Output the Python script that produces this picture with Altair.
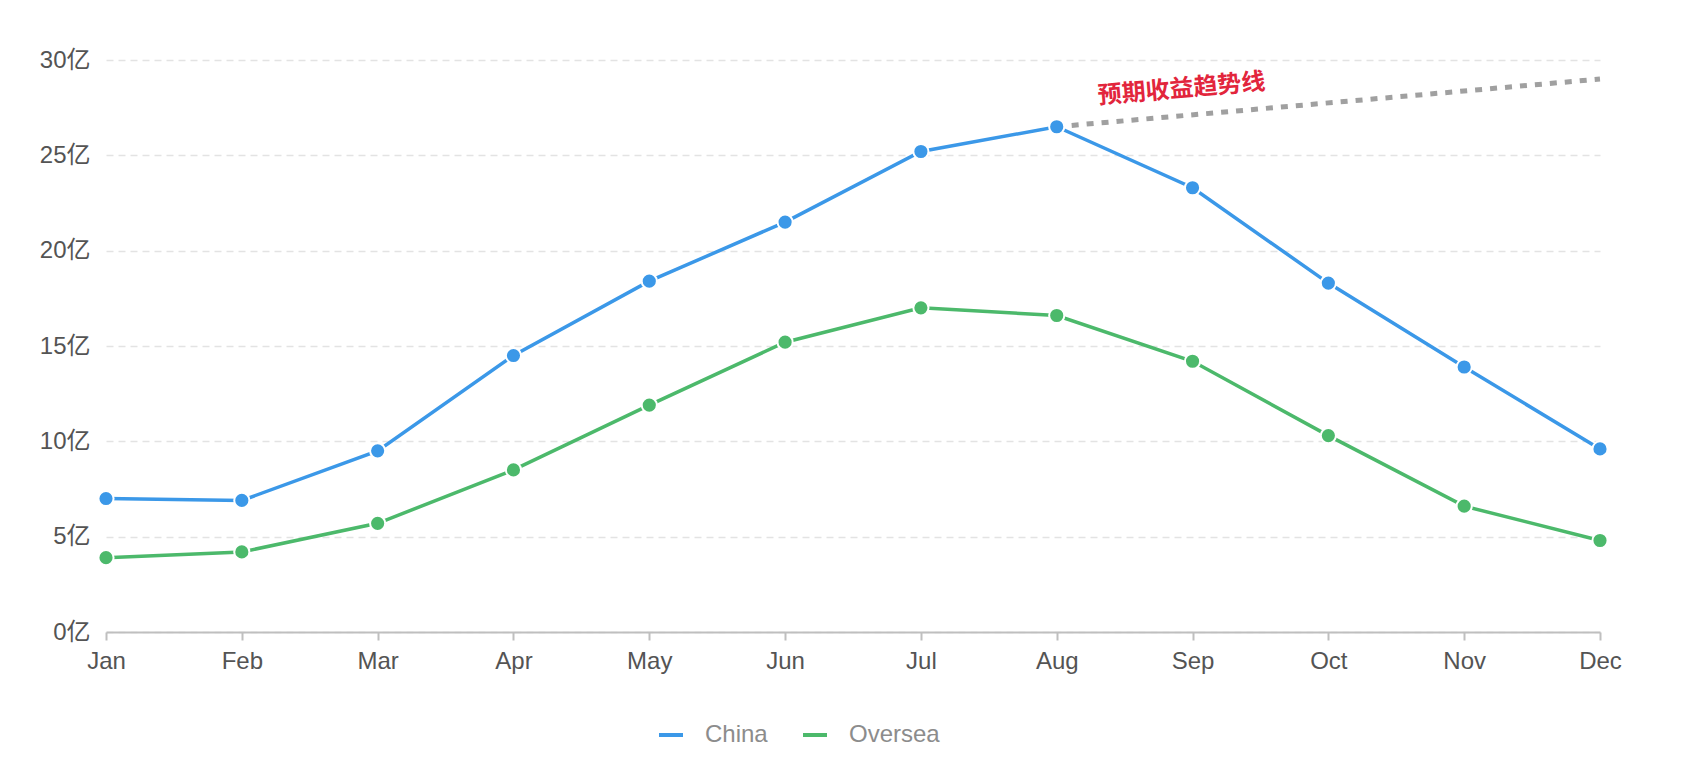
import altair as alt
import pandas as pd

months = ["Jan", "Feb", "Mar", "Apr", "May", "Jun", "Jul", "Aug", "Sep", "Oct", "Nov", "Dec"]
china = [7.0, 6.9, 9.5, 14.5, 18.4, 21.5, 25.2, 26.5, 23.3, 18.3, 13.9, 9.6]
oversea = [3.9, 4.2, 5.7, 8.5, 11.9, 15.2, 17.0, 16.6, 14.2, 10.3, 6.6, 4.8]
series_names = ["China", "Oversea"]
series_colors = ["#3b98e8", "#4cb96b"]

trend_months = ["Aug", "Dec"]
trend_values = [26.5, 29.0]
annotation_text = ["预期收益趋势线"]
annotation_month = ["Sep"]
annotation_value = [28.5]

rows = []
for name, vals in zip(series_names, [china, oversea]):
    for m, v in zip(months, vals):
        rows.append({"month": m, "city": name, "value": v})
df = pd.DataFrame(rows)
trend_df = pd.DataFrame({"month": trend_months, "value": trend_values})
ann_df = pd.DataFrame({"month": annotation_month, "value": annotation_value, "text": annotation_text})

FONT = "Liberation Sans, Noto Sans CJK SC, sans-serif"

x_enc = alt.X(
    "month:N",
    sort=months,
    scale=alt.Scale(type="point", padding=0, domain=months),
    axis=alt.Axis(
        title=None, labelAngle=0, grid=False,
        labelAlign="center", labelBaseline="top",
        domainColor="#bfbfbf", domainWidth=2,
        tickColor="#bfbfbf", tickWidth=2, tickSize=8,
        labelFontSize=24, labelColor="#545454", labelPadding=9, labelFont=FONT,
    ),
)
y_enc = alt.Y(
    "value:Q",
    scale=alt.Scale(domain=[0, 30], nice=False),
    axis=alt.Axis(
        title=None, values=[0, 5, 10, 15, 20, 25, 30],
        labelExpr="datum.value + '亿'",
        labelAlign="right", labelBaseline="middle",
        domain=False, ticks=False,
        grid=True, gridColor="#e3e3e3", gridDash=[7, 5], gridWidth=1.5,
        labelFontSize=24, labelColor="#545454", labelPadding=16, labelFont=FONT,
    ),
)
color_scale = alt.Scale(domain=series_names, range=series_colors)

lines = alt.Chart(df).mark_line(strokeWidth=3.5).encode(
    x=x_enc, y=y_enc,
    color=alt.Color(
        "city:N", scale=color_scale,
        legend=alt.Legend(
            title=None, orient="none", legendX=551, legendY=661,
            direction="horizontal", symbolType="stroke", symbolSize=576,
            symbolStrokeWidth=4, labelFontSize=24, labelColor="#8c8c8c",
            labelFont=FONT, labelOffset=20, columnPadding=27,
        ),
    ),
)
points = alt.Chart(df).mark_point(filled=True, size=230, opacity=1, stroke="white", strokeWidth=2).encode(
    x=alt.X("month:N", sort=months),
    y="value:Q",
    fill=alt.Color("city:N", scale=color_scale, legend=None),
)
trend = alt.Chart(trend_df).mark_line(strokeWidth=5, strokeDash=[7, 8], color="#a0a0a0").encode(
    x=alt.X("month:N", sort=months), y="value:Q",
)
ann = alt.Chart(ann_df).mark_text(
    fontSize=24, fontWeight="bold", color="#e2253c", angle=355,
    font="Noto Sans CJK SC", dx=-11, baseline="middle", align="center",
).encode(x=alt.X("month:N", sort=months), y="value:Q", text="text:N")

chart = alt.layer(trend, lines, points, ann).properties(
    width=1494, height=572,
    background="white",
    autosize=alt.AutoSizeParams(type="none"),
    padding={"left": 98, "top": 52, "right": 84, "bottom": 144},
).configure_view(strokeWidth=0, stroke="transparent")

chart.save("out.html", embed_options={"renderer": "svg", "actions": False})
